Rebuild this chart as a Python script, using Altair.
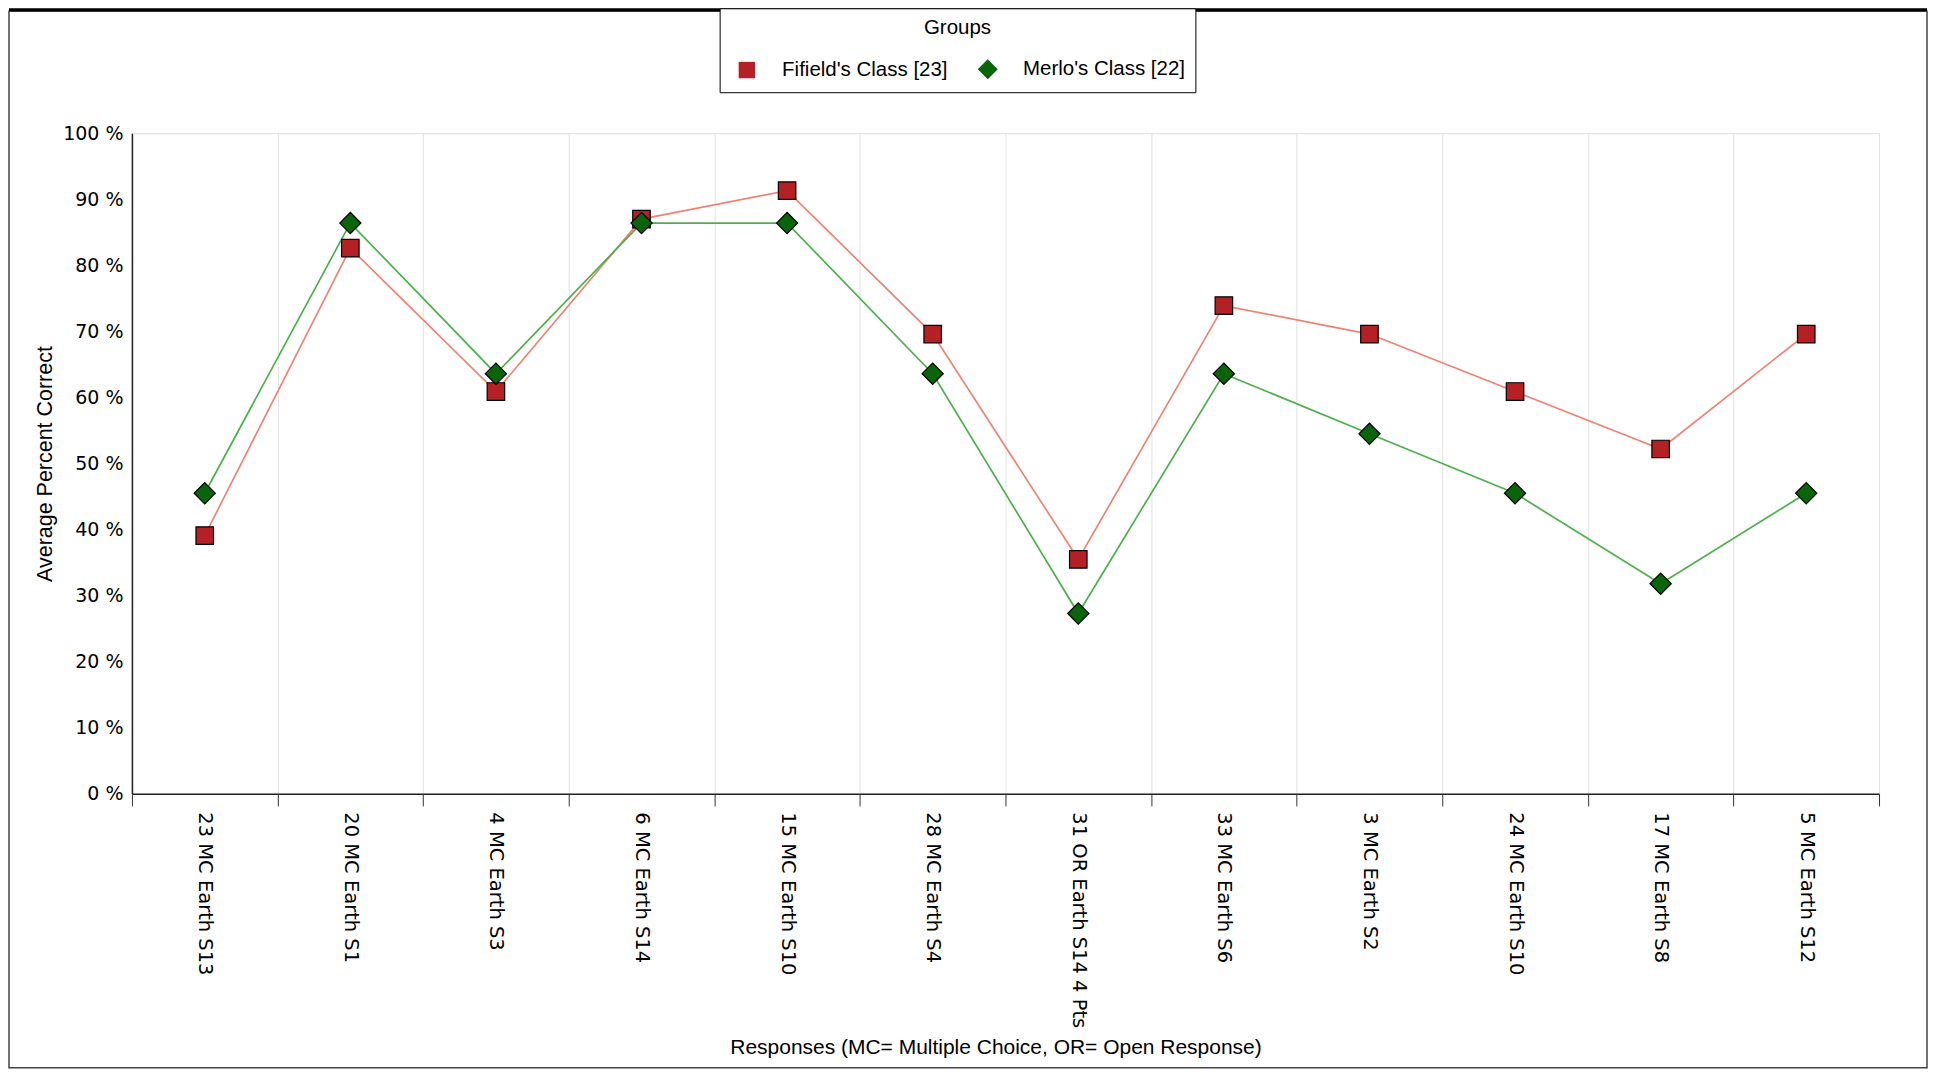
import altair as alt
import pandas as pd

categories = [
    "23 MC Earth S13", "20 MC Earth S1", "4 MC Earth S3", "6 MC Earth S14",
    "15 MC Earth S10", "28 MC Earth S4", "31 OR Earth S14 4 Pts", "33 MC Earth S6",
    "3 MC Earth S2", "24 MC Earth S10", "17 MC Earth S8", "5 MC Earth S12",
]
fifield = [39.1, 82.6, 60.9, 87.0, 91.3, 69.6, 35.5, 73.9, 69.6, 60.9, 52.2, 69.6]
merlo = [45.5, 86.4, 63.6, 86.4, 86.4, 63.6, 27.3, 63.6, 54.5, 45.5, 31.8, 45.5]
groups = ["Fifield's Class [23]", "Merlo's Class [22]"]
line_colors = ["#F08272", "#4CB04C"]
marker_fills = ["#B52025", "#0A640A"]
shapes = ["M-0.95,-0.95H0.95V0.95H-0.95Z", "M-1.15,0L0,-1.15L1.15,0L0,1.15Z"]
y_ticks = [0, 10, 20, 30, 40, 50, 60, 70, 80, 90, 100]

rows = []
for g, lc, vals in zip(groups, line_colors, [fifield, merlo]):
    for c, v in zip(categories, vals):
        rows.append({"question": c, "group": g, "pct": v, "line_color": lc})
df = pd.DataFrame(rows)

W, H = 1748, 661

x_axis = alt.Axis(
    title="Responses (MC= Multiple Choice, OR= Open Response)",
    tickBand="extent", labelAngle=90, labelAlign="left", labelBaseline="middle",
    labelFont="DejaVu Sans", labelFontSize=19.5, labelColor="black", labelPadding=6,
    labelLimit=400, labelOverlap=False,
    tickSize=12, tickColor="#333333", domainColor="#222222", domainWidth=1.5,
    grid=True, gridColor="#e2e2e2", gridWidth=1,
    titleFont="Liberation Sans", titleFontSize=21, titleFontWeight="normal",
    titleColor="black", titleX=864, titleY=254, titleBaseline="middle", titleAlign="center",
)
y_axis = alt.Axis(
    values=y_ticks, labelExpr="datum.value + ' %'", ticks=False, grid=False,
    domainColor="#222222", domainWidth=1.5,
    labelFont="DejaVu Sans", labelFontSize=19, labelColor="black", labelPadding=9,
    title="Average Percent Correct", titleFont="Liberation Sans", titleFontSize=21.5,
    titleFontWeight="normal", titleColor="black", titleAngle=270,
    titleX=-86, titleY=H / 2, titleBaseline="middle", titleAlign="center",
)

x_enc = alt.X("question:N", sort=categories,
              scale=alt.Scale(type="band", paddingInner=0, paddingOuter=0),
              bandPosition=0.5, axis=x_axis)
y_enc = alt.Y("pct:Q", scale=alt.Scale(domain=[0, 100], nice=False), axis=y_axis)

leg = alt.Legend(
    title="Groups", orient="none", legendX=588, legendY=-125, direction="horizontal",
    strokeColor="black", fillColor="white", padding=10,
    titleAnchor="middle", titleFont="Liberation Sans", titleFontSize=20.5,
    titleFontWeight="normal", titleColor="black", titlePadding=20,
    labelFont="Liberation Sans", labelFontSize=20.5, labelColor="black",
    symbolOffset=7, labelOffset=25, columnPadding=22, labelLimit=300,
    symbolSize=300, symbolStrokeColor="black", symbolStrokeWidth=1.2,
)

lines = alt.Chart(df).mark_line(strokeWidth=1.7).encode(
    x=x_enc, y=y_enc,
    color=alt.Color("line_color:N", scale=None),
    detail="group:N",
)

points = alt.Chart(df).mark_point(filled=True, stroke="black", strokeWidth=1.2, opacity=1, size=340).encode(
    x=x_enc, y=y_enc,
    fill=alt.Fill("group:N", scale=alt.Scale(domain=groups, range=marker_fills), legend=leg),
    shape=alt.Shape("group:N", scale=alt.Scale(domain=groups, range=shapes), legend=leg),
)

frame_df = pd.DataFrame({"k": [0]})
frame = alt.Chart(frame_df).mark_rect(fill="transparent", stroke="#444444", strokeWidth=1.5).encode(
    x=alt.value(-123), x2=alt.value(1796), y=alt.value(-122), y2=alt.value(935)
)
top_line = alt.Chart(frame_df).mark_rule(color="black", strokeWidth=3).encode(
    x=alt.value(-123), x2=alt.value(1796), y=alt.value(-123.5)
)

chart = alt.layer(frame, top_line, lines, points).properties(
    width=W, height=H,
    autosize=alt.AutoSizeParams(type="none"),
    padding={"left": 124, "top": 125, "right": 50, "bottom": 276},
).configure_view(stroke="transparent").configure(background="white")

chart.save("out.html", embed_options={"renderer": "svg", "actions": False})
